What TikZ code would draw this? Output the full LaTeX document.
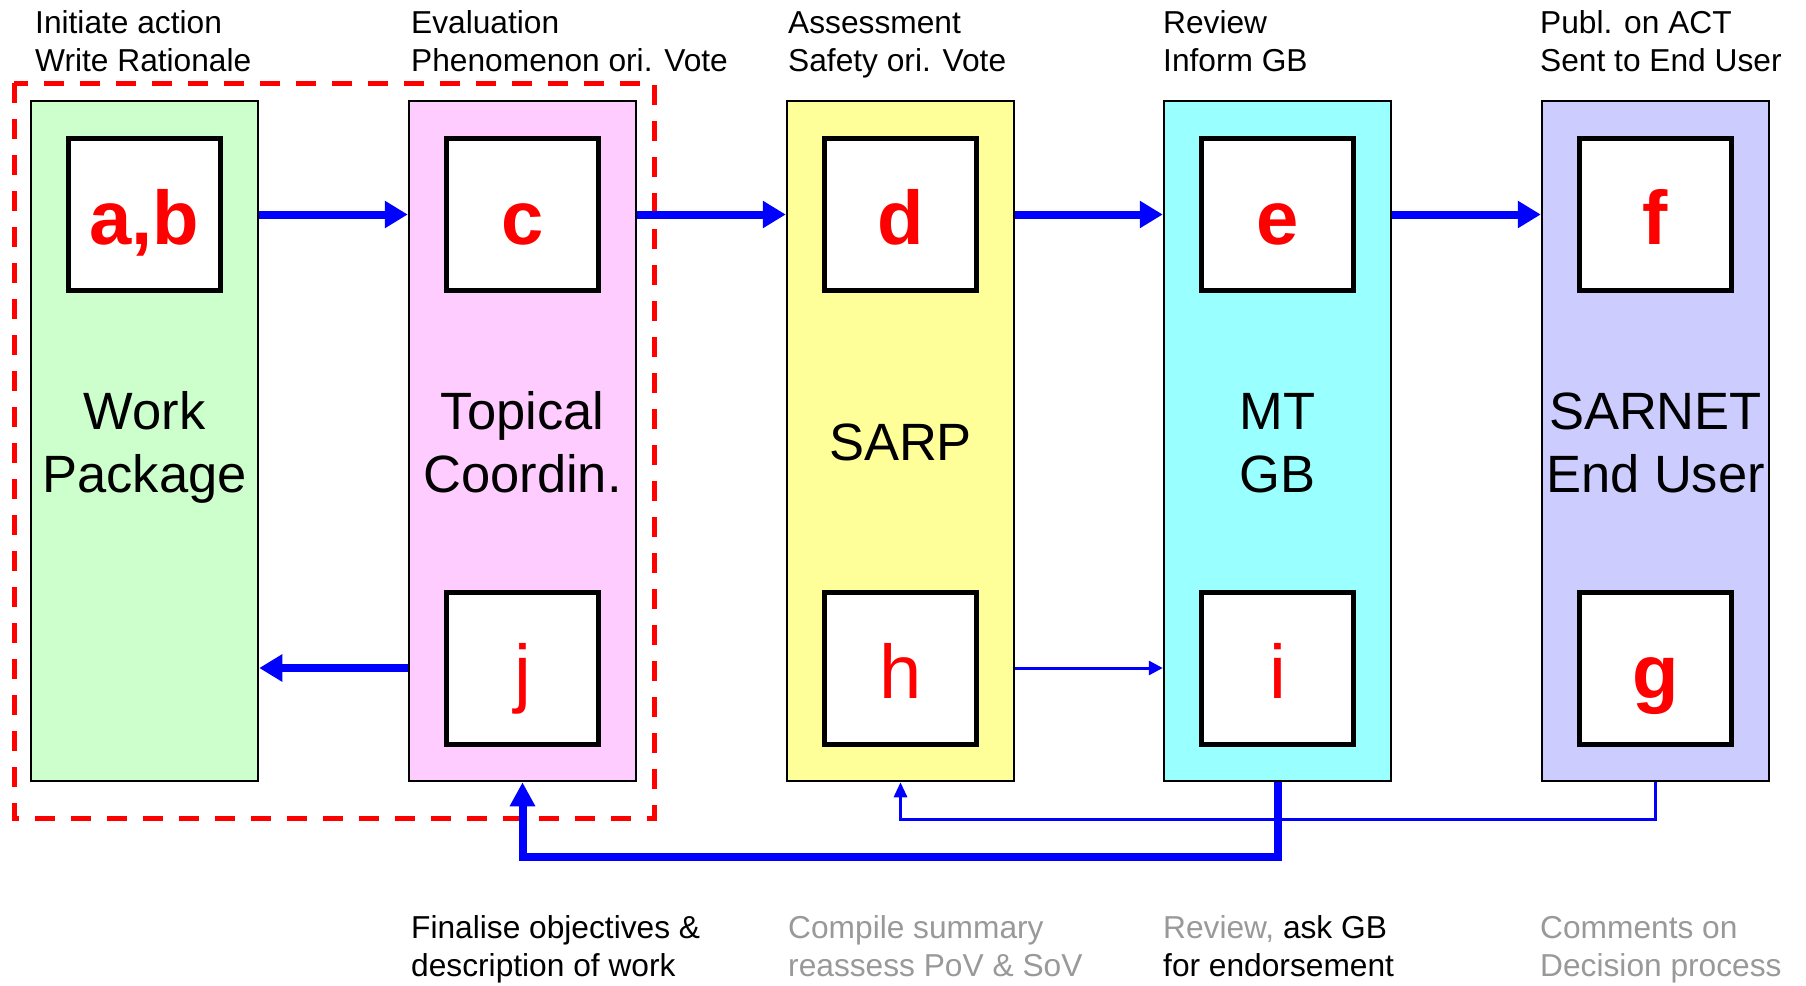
\documentclass[tikz,border=0pt]{standalone}
\usepackage{fontspec}
\setmainfont{Liberation Sans}
\usetikzlibrary{arrows.meta,calc}
\definecolor{cgreen}{HTML}{CCFFCC}
\definecolor{cpink}{HTML}{FFCCFF}
\definecolor{cyellow}{HTML}{FFFF99}
\definecolor{ccyan}{HTML}{99FFFF}
\definecolor{clav}{HTML}{CCCCFF}
\definecolor{cblue}{HTML}{0000FF}
\definecolor{cred}{HTML}{FF0000}
\definecolor{cgray}{HTML}{999999}
\tikzset{
  outerbox/.style={draw=black,line width=2.5pt,minimum width=227pt,minimum height=680pt,inner sep=0pt},
  innerbox/.style={draw=black,line width=5pt,fill=white,minimum width=152pt,minimum height=152pt,inner sep=0pt,text height=60pt,text depth=0pt,text=cred,font=\fontsize{76}{80}\selectfont\bfseries},
  innerreg/.style={innerbox,font=\fontsize{76}{80}\selectfont},
  mainlbl/.style={align=center,font=\fontsize{52.5}{63}\selectfont,inner sep=0pt},
  toplbl/.style={anchor=west,align=left,font=\fontsize{31.7}{38}\selectfont,inner sep=0pt},
  thickarrow/.style={draw=cblue,line width=8pt,-{Triangle[length=23pt,width=26pt]}},
  thinarrow/.style={draw=cblue,line width=3pt,-{Triangle[length=14pt,width=14pt]}},
  fbthick/.style={draw=cblue,line width=8pt,-{Triangle[length=24pt,width=24pt]}},
  fbthin/.style={draw=cblue,line width=3pt,-{Triangle[length=15pt,width=13pt]}},
}
\begin{document}
\begin{tikzpicture}[x=1pt,y=-1pt]
\useasboundingbox (0,0) rectangle (1806,985);
% outer boxes
\node[outerbox,fill=cgreen]  (wp)   at (144.5,441) {};
\node[outerbox,fill=cpink]   (tc)   at (522.5,441) {};
\node[outerbox,fill=cyellow] (sarp) at (900.5,441) {};
\node[outerbox,fill=ccyan]   (mt)   at (1277.5,441) {};
\node[outerbox,fill=clav]    (sn)   at (1655.5,441) {};
% red dashed region
\draw[cred,line width=5pt,dash pattern=on 20pt off 16pt] (14,83) rectangle (654,818);
% inner boxes
\node[innerbox] (ab) at (144.5,214.5) {a,b};
\node[innerbox] (c)  at (522.5,214.5) {c};
\node[innerbox] (d)  at (900.5,214.5) {d};
\node[innerbox] (e)  at (1277.5,214.5) {e};
\node[innerbox] (f)  at (1655.5,214.5) {f};
\node[innerreg] (j)  at (522.5,668) {j};
\node[innerreg] (h)  at (900.5,668) {h};
\node[innerreg] (i)  at (1277.5,668) {i};
\node[innerbox] (g)  at (1655.5,668) {g};
% main labels
\node[mainlbl] (lwp)   at (144.5,448) {\strut Work\\\strut Package};
\node[mainlbl] (ltc)   at (522.5,448) {\strut Topical\\\strut Coordin.};
\node[mainlbl] (lsarp) at (900.5,448) {\strut SARP};
\node[mainlbl] (lmt)   at (1277.5,448) {\strut MT\\\strut GB};
\node[mainlbl] (lsn)   at (1655.5,448) {\strut SARNET\\\strut End User};
% top labels
\node[toplbl] (t1) at (35,45)   {\strut Initiate action\\\strut Write Rationale};
\node[toplbl] (t2) at (411,45)  {\strut Evaluation\\\strut Phenomenon ori. Vote};
\node[toplbl] (t3) at (788,45)  {\strut Assessment\\\strut Safety ori. Vote};
\node[toplbl] (t4) at (1163,45) {\strut Review\\\strut Inform GB};
\node[toplbl] (t5) at (1540,45) {\strut Publ. on ACT\\\strut Sent to End User};
% bottom labels
\node[toplbl] (b2) at (411,950)  {\strut Finalise objectives \&\\\strut description of work};
\node[toplbl,text=cgray] (b3) at (788,950)  {\strut Compile summary\\\strut reassess PoV \& SoV};
\node[toplbl] (b4) at (1163,950) {\strut\textcolor{cgray}{Review,} ask GB\\\strut for endorsement};
\node[toplbl,text=cgray] (b5) at (1540,950) {\strut Comments on\\\strut Decision process};
% forward arrows
\draw[thickarrow] (wp.east |- ab) -- (tc.west |- c);
\draw[thickarrow] (tc.east |- c) -- (sarp.west |- d);
\draw[thickarrow] (sarp.east |- d) -- (mt.west |- e);
\draw[thickarrow] (mt.east |- e) -- (sn.west |- f);
\draw[thickarrow] (tc.west |- j) -- (wp.east |- j);
\draw[thinarrow] (sarp.east |- h) -- (mt.west |- i);
% feedback
\coordinate (fbthinY) at (0,819);
\coordinate (fbthickY) at (0,857);
\draw[fbthin] (sn.south) -- (sn.south |- fbthinY) -| (sarp.south);
\draw[fbthick] (mt.south) -- (mt.south |- fbthickY) -| (tc.south);
\end{tikzpicture}
\end{document}
